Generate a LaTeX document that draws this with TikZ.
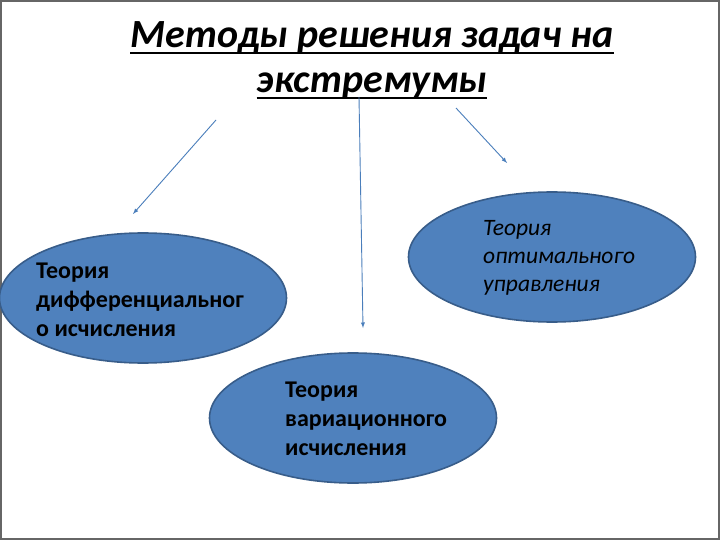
\documentclass[tikz,border=0pt]{standalone}
\usepackage{fontspec}
\setmainfont{Carlito}
\usetikzlibrary{shapes.geometric}
\definecolor{ovalfill}{RGB}{79,129,189}
\definecolor{ovaldraw}{RGB}{56,93,138}
\definecolor{arrowcol}{RGB}{74,126,187}
\tikzset{
  oval/.style={ellipse, fill=ovalfill, draw=ovaldraw, line width=1.6pt,
    minimum width=287pt, minimum height=130pt, inner sep=0pt},
  ovaltext/.style={anchor=north west, align=left, inner sep=0pt},
  titleline/.style={anchor=base, inner sep=0pt, font=\fontsize{40}{46}\selectfont\bfseries\itshape},
  uline/.style={line width=2.2pt},
  link/.style={draw=arrowcol, line width=0.9pt, -latex}
}
\begin{document}
\begin{tikzpicture}[x=1pt,y=-1pt]
          \fill[white] (0,0) rectangle (720,540);
          \draw[gray!80!black, line width=2pt] (1,1) rectangle (719,539);
          \useasboundingbox (0,0) rectangle (720,540);
        %
        % Title:
          \node[titleline] (titleA) at (372,48) {Методы решения задач на};
          \node[titleline] (titleB) at (372,93) {экстремумы};
          \draw[uline] ([yshift=-5pt]titleA.base west) -- ([yshift=-5pt]titleA.base east);
          \draw[uline] ([yshift=-5pt]titleB.base west) -- ([yshift=-5pt]titleB.base east);
        %
        % Ovals:
          \node[oval] (diff) at (143,298) {};
          \node[oval] (var) at (353,418) {};
          \node[oval] (opt) at (552,257) {};
          \node[ovaltext, font=\fontsize{24}{29}\selectfont\bfseries] (diffText) at (36,262.5)
            {Теория\\дифференциальног\\о исчисления};
          \node[ovaltext, font=\fontsize{24}{29}\selectfont\bfseries] (varText) at (285,381.5)
            {Теория\\вариационного\\исчисления};
          \node[ovaltext, font=\fontsize{23.5}{28}\selectfont\itshape] (optText) at (483,220)
            {Теория\\оптимального\\управления};
        %
        % Arrow ends:
          \coordinate (leftFrom) at (216,120);
          \coordinate (leftTo) at (133,214);
          \coordinate (midFrom) at (359,97);
          \coordinate (midTo) at (363,328);
          \coordinate (rightFrom) at (456,108);
          \coordinate (rightTo) at (507,163);
        \draw[link] (leftFrom) -- (leftTo);
        \draw[link] (midFrom) -- (midTo);
        \draw[link] (rightFrom) -- (rightTo);
            \end{tikzpicture}
\end{document}
